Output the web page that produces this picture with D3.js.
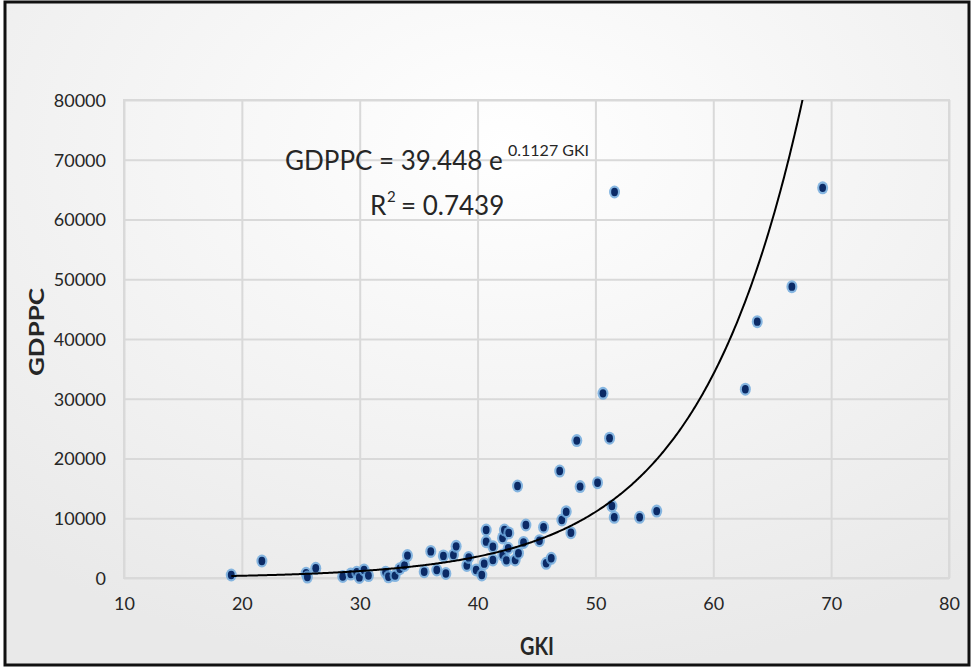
<!DOCTYPE html>
<html>
<head>
<meta charset="utf-8">
<script src="https://cdn.jsdelivr.net/npm/d3@7"></script>
<style>
  body { margin: 0; background: #fff; }
  text { font-family: Lato, "Open Sans", sans-serif; fill: #262626; }
</style>
</head>
<body>
<script>
var width = 972;
var height = 668;

// GKI (x) and GDPPC (y)
var gki = [19.1, 21.7, 25.45, 25.56, 26.27, 28.56, 29.24, 29.75, 29.97, 30.37, 30.74,
  32.2, 32.44, 33.0, 33.4, 33.8, 34.05, 35.47, 36.03, 36.54, 37.1, 37.31, 37.95, 38.18,
  39.09, 39.25, 39.88, 40.36, 40.56, 40.73, 40.73, 41.3, 41.3, 42.12, 42.28, 42.14, 42.45,
  42.6, 42.65, 43.19, 43.47, 43.39, 43.9, 44.1, 45.25, 45.6, 45.82, 46.25, 46.97, 47.15,
  47.52, 47.92, 48.42, 48.7, 50.18, 50.64, 51.2, 51.4, 51.6, 51.62, 53.75, 55.2,
  62.72, 63.73, 66.67, 69.28];
var gdppc = [500, 2850, 790, 150, 1620, 250, 650, 950, 100, 1340, 400,
  950, 200, 400, 1550, 2100, 3750, 1050, 4450, 1340, 3700, 750, 3850, 5300,
  2100, 3450, 1340, 500, 2400, 8030, 6080, 5240, 3010, 6700, 8030, 3850, 2950,
  4970, 7550, 3010, 4150, 15400, 5950, 8870, 6240, 8490, 2460, 3300, 17900, 9710,
  11100, 7580, 23000, 15300, 15950, 30900, 23400, 12050, 10160, 64600, 10160, 11200,
  31600, 42900, 48760, 65300];

var xTicks = [10, 20, 30, 40, 50, 60, 70, 80];
var yTicks = [0, 10000, 20000, 30000, 40000, 50000, 60000, 70000, 80000];

// exponential trendline y = a * e^(b x)
var trendA = 39.448;
var trendB = 0.1127;
var rSquared = 0.7439;

var padding = { left: 124, right: 23, top: 100, bottom: 90 };

var svg = d3.select("body")
    .append("svg")
    .attr("width", width)
    .attr("height", height)

var defs = svg.append("defs")
var grad = defs.append("radialGradient")
    .attr("id", "bg")
    .attr("cx", "52%").attr("cy", "22%").attr("r", "80%")
grad.append("stop").attr("offset", "0%").attr("stop-color", "#ffffff")
grad.append("stop").attr("offset", "100%").attr("stop-color", "#e9e9e9")

svg.append("clipPath").attr("id", "plotclip")
    .append("rect")
    .attr("x", padding.left).attr("y", padding.top)
    .attr("width", width - padding.left - padding.right)
    .attr("height", height - padding.top - padding.bottom)

// background and black frame
svg.append("rect")
    .attr("x", 5).attr("y", 2)
    .attr("width", 964).attr("height", 663)
    .attr("fill", "url(#bg)")
    .attr("stroke", "#111")
    .attr("stroke-width", 3)

var xScale = d3.scaleLinear()
    .domain([10, 80])
    .range([padding.left, width - padding.right])
var yScale = d3.scaleLinear()
    .domain([0, 80000])
    .range([height - padding.bottom, padding.top])

// grid
var xAxis = d3.axisBottom(xScale)
    .tickValues(xTicks)
    .tickFormat(d3.format("d"))
    .tickSize(-(height - padding.top - padding.bottom))
    .tickPadding(19)
var yAxis = d3.axisLeft(yScale)
    .tickValues(yTicks)
    .tickFormat(d3.format("d"))
    .tickSize(-(width - padding.left - padding.right))
    .tickPadding(18)

var gx = svg.append("g")
    .attr("class", "xaxis")
    .attr("transform", "translate(0," + (height - padding.bottom) + ")")
    .call(xAxis)
var gy = svg.append("g")
    .attr("class", "yaxis")
    .attr("transform", "translate(" + padding.left + ",0)")
    .call(yAxis)

svg.selectAll(".xaxis .domain, .yaxis .domain").remove()
svg.selectAll(".tick line")
    .attr("stroke", "#d9d9d9")
    .attr("stroke-width", 2)
svg.selectAll(".tick text")
    .style("font-size", "18px")
    .attr("fill", "#262626")
gy.selectAll(".tick text").attr("dy", "0.35em")

// plot area border
svg.append("rect")
    .attr("x", padding.left).attr("y", padding.top)
    .attr("width", width - padding.left - padding.right)
    .attr("height", height - padding.top - padding.bottom)
    .attr("fill", "none")
    .attr("stroke", "#d9d9d9")
    .attr("stroke-width", 2)

// points
var pts = gki.map(function (d, i) { return [d, gdppc[i]] })

var dots = svg.append("g").selectAll(".dot")
    .data(pts)
    .enter()
    .append("g")
    .attr("class", "dot")
    .attr("transform", function (d) {
        return "translate(" + xScale(d[0]) + "," + yScale(d[1]) + ")"
    })
dots.append("ellipse")
    .attr("rx", 5.5).attr("ry", 6.5)
    .attr("fill", "#6aa6dc")
    .attr("opacity", 0.8)
dots.append("ellipse")
    .attr("rx", 3.4).attr("ry", 4.2)
    .attr("fill", "#0b2a66")

// trendline
var xMin = d3.min(gki)
var xMax = d3.max(gki)
var trendX = d3.range(xMin, xMax, 0.1).concat([xMax])
var line = d3.line()
    .x(function (d) { return xScale(d) })
    .y(function (d) { return yScale(trendA * Math.exp(trendB * d)) })

svg.append("path")
    .datum(trendX)
    .attr("clip-path", "url(#plotclip)")
    .attr("d", line)
    .attr("fill", "none")
    .attr("stroke", "#000")
    .attr("stroke-width", 2)

// equation
svg.append("text")
    .attr("x", 285)
    .attr("y", 170)
    .style("font-size", "26px")
    .attr("fill", "#000")
    .text("GDPPC = " + trendA.toFixed(3) + " e")
svg.append("text")
    .attr("x", 508)
    .attr("y", 156)
    .style("font-size", "16px")
    .attr("fill", "#000")
    .text(trendB + " GKI")
svg.append("text")
    .attr("x", 370)
    .attr("y", 215)
    .style("font-size", "26px")
    .attr("fill", "#000")
    .text("R")
svg.append("text")
    .attr("x", 387)
    .attr("y", 202)
    .style("font-size", "15px")
    .attr("fill", "#000")
    .text("2")
svg.append("text")
    .attr("x", 401)
    .attr("y", 215)
    .style("font-size", "26px")
    .attr("fill", "#000")
    .text("= " + rSquared)

// axis titles
svg.append("text")
    .attr("x", 537)
    .attr("y", 655)
    .attr("text-anchor", "middle")
    .attr("textLength", 34)
    .attr("lengthAdjust", "spacingAndGlyphs")
    .style("font-size", "25px")
    .style("font-weight", "bold")
    .attr("fill", "#000")
    .text("GKI")
svg.append("text")
    .attr("transform", "translate(44,332) rotate(-90)")
    .attr("text-anchor", "middle")
    .attr("textLength", 88)
    .attr("lengthAdjust", "spacingAndGlyphs")
    .style("font-size", "21px")
    .style("font-weight", "bold")
    .attr("fill", "#000")
    .text("GDPPC")
</script>
</body>
</html>
